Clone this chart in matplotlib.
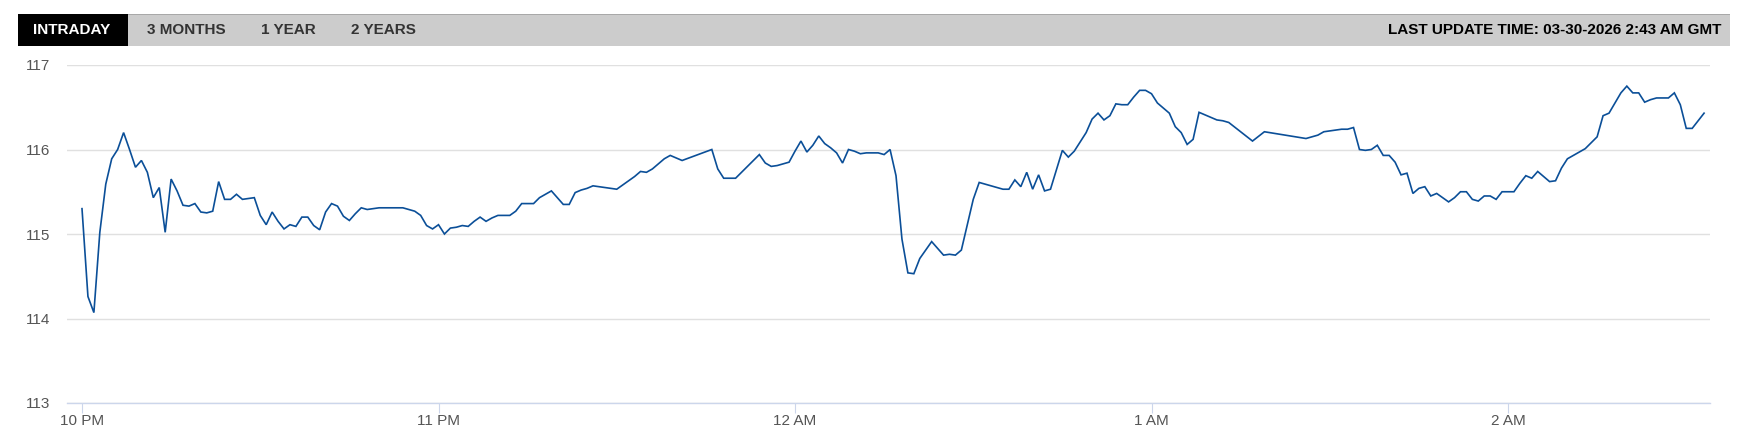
import numpy as np
import matplotlib
matplotlib.use('Agg')
from matplotlib import pyplot as plt
from matplotlib import font_manager
from matplotlib.patches import Rectangle

# minutes after 10 PM and price
minutes = ([*range(0, 87)] + [*range(90, 102)] + [*range(106, 111)]
           + [*range(114, 194)] + [197, 199, 206, 208, 209, 211, 212, 213, 214]
           + [*range(215, 274)])
prices = [
    115.30, 114.26, 114.07, 115.02, 115.59, 115.89, 116.00, 116.20, 116.00, 115.79,
    115.87, 115.73, 115.43, 115.55, 115.02, 115.65, 115.51, 115.34, 115.33, 115.36,
    115.26, 115.25, 115.27, 115.62, 115.41, 115.41, 115.47, 115.41, 115.42, 115.43,
    115.22, 115.11, 115.26, 115.15, 115.06, 115.11, 115.09, 115.20, 115.20, 115.10,
    115.05, 115.26, 115.36, 115.33, 115.21, 115.16, 115.24, 115.31, 115.29, 115.30,
    115.31, 115.31, 115.31, 115.31, 115.31, 115.29, 115.27, 115.22, 115.10, 115.06,
    115.11, 115.00, 115.07, 115.08, 115.10, 115.09, 115.15, 115.20, 115.15, 115.19,
    115.22, 115.22, 115.22, 115.27, 115.36, 115.36, 115.36, 115.43, 115.47, 115.51,
    115.43, 115.35, 115.35, 115.49, 115.52, 115.54, 115.57,
    115.53, 115.58, 115.63, 115.68, 115.74, 115.73, 115.77, 115.83, 115.89, 115.93,
    115.90, 115.87,
    116.00, 115.77, 115.66, 115.66, 115.66,
    115.94, 115.84, 115.80, 115.81, 115.83, 115.85, 115.98, 116.10, 115.97, 116.05,
    116.16, 116.07, 116.02, 115.96, 115.84, 116.00, 115.98, 115.95, 115.96, 115.96,
    115.96, 115.94, 116.00, 115.69, 114.94, 114.54, 114.53, 114.71, 114.81, 114.91,
    114.83, 114.75, 114.76, 114.75, 114.81, 115.11, 115.41, 115.61, 115.59, 115.57,
    115.55, 115.53, 115.53, 115.64, 115.56, 115.73, 115.53, 115.70, 115.51, 115.53,
    115.76, 115.99, 115.91, 115.98, 116.09, 116.20, 116.36, 116.43, 116.35, 116.40,
    116.54, 116.53, 116.53, 116.62, 116.70, 116.70, 116.66, 116.55, 116.49, 116.43,
    116.27, 116.20, 116.06, 116.12, 116.44, 116.41, 116.38, 116.35, 116.34, 116.32,
    116.10, 116.21, 116.13, 116.17, 116.21, 116.23, 116.24, 116.24, 116.26,
    116.00, 115.99, 116.00, 116.05, 115.93, 115.93, 115.85, 115.70, 115.72, 115.48,
    115.54, 115.56, 115.45, 115.48, 115.43, 115.38, 115.43, 115.50, 115.50, 115.41,
    115.39, 115.45, 115.45, 115.41, 115.50, 115.50, 115.50, 115.60, 115.69, 115.66,
    115.74, 115.68, 115.62, 115.63, 115.78, 115.89, 115.93, 115.97, 116.01, 116.08,
    116.15, 116.40, 116.43, 116.55, 116.67, 116.75, 116.67, 116.67, 116.56, 116.59,
    116.61, 116.61, 116.61, 116.67, 116.53, 116.25, 116.25, 116.34, 116.43,
]

hour_ticks = [0, 60, 120, 180, 240]
hour_labels = ['10 PM', '11 PM', '12 AM', '1 AM', '2 AM']
y_ticks = [113, 114, 115, 116, 117]
tabs = ['INTRADAY', '3 MONTHS', '1 YEAR', '2 YEARS']
tab_x = [72, 186, 288, 383]
update_text = 'LAST UPDATE TIME: 03-30-2026 2:43 AM GMT'

plt.rcParams['font.family'] = ['Liberation Sans', 'DejaVu Sans']
installed = {f.name for f in font_manager.fontManager.ttflist}
narrow = 'Liberation Sans Narrow' if 'Liberation Sans Narrow' in installed else 'Liberation Sans'
tick_size = 12 if narrow != 'Liberation Sans' else 11

W, H = 1750, 438
fig = plt.figure(figsize=(W / 100, H / 100), dpi=100)

# header bar
fig.patches.append(Rectangle((18 / W, 1 - 46 / H), (1730 - 18) / W, 32 / H,
                             transform=fig.transFigure, facecolor='#cccccc',
                             edgecolor='none'))
fig.patches.append(Rectangle((18 / W, 1 - 15 / H), (1730 - 18) / W, 1.2 / H,
                             transform=fig.transFigure, facecolor='#a8a8a8',
                             edgecolor='none'))
fig.patches.append(Rectangle((18 / W, 1 - 46 / H), (128 - 18) / W, 32 / H,
                             transform=fig.transFigure, facecolor='black',
                             edgecolor='none'))
for i, (t, x) in enumerate(zip(tabs, tab_x)):
    fig.text(x / W, 1 - 30.5 / H, t, ha='center', va='center', fontsize=11,
             fontweight='bold', color='white' if i == 0 else '#333333')
fig.text(1721 / W, 1 - 30.5 / H, update_text, ha='right', va='center',
         fontsize=11, fontweight='bold', color='black')

# chart
x0, x1 = 67, 1710
ax = fig.add_axes([x0 / W, 1 - 403 / H, (x1 - x0) / W, (403 - 65) / H])
px_per_min = 356.5 / 60
ax.set_xlim(-(82 - x0) / px_per_min, (x1 - 82) / px_per_min)
ax.set_ylim(113, 117)
ax.plot(minutes, prices, color='#0b4f98', lw=1.2, solid_joinstyle='miter')

ax.set_yticks(y_ticks)
ax.set_yticklabels([str(v) for v in y_ticks], family=narrow)
ax.set_xticks(hour_ticks)
ax.set_xticklabels(hour_labels, family=narrow)
ax.grid(axis='y', color='#e0e0e0', lw=1)
ax.set_axisbelow(True)
for s in ['top', 'right', 'left']:
    ax.spines[s].set_visible(False)
ax.spines['bottom'].set_color('#ccd6eb')
ax.spines['bottom'].set_linewidth(1)
ax.tick_params(axis='y', length=0, pad=12, labelsize=tick_size, labelcolor='#555555')
ax.tick_params(axis='x', length=7, width=0.8, color='#ccd6eb', pad=1,
               labelsize=tick_size, labelcolor='#555555')

fig.savefig('out.png', dpi=100)
